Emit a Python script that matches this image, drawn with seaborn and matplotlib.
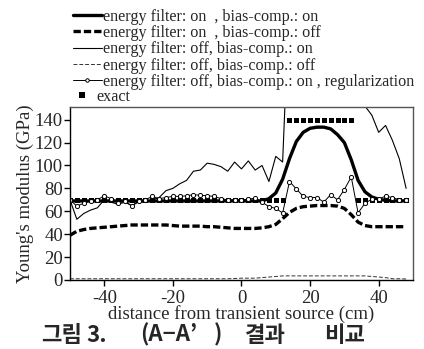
import numpy as np
import pandas as pd
import matplotlib
matplotlib.use("Agg")
import matplotlib.pyplot as plt
import seaborn as sns
from matplotlib.lines import Line2D

# distance from transient source (cm), 2 cm step
dist = list(range(-50, 50, 2))

# energy filter on, bias-comp. on
on_on = [69, 69, 69, 69, 69, 69, 69, 69, 69, 69,
         69, 69, 69, 69, 69, 69, 69, 69, 69, 69,
         69, 69, 69, 69, 69, 69, 69, 69, 69, 71,
         76, 88, 106, 121, 129, 132.5, 133.5, 133.5, 132, 127,
         120, 105, 87, 77, 72.5, 70.5, 69.5, 69, 69, 69]

# energy filter on, bias-comp. off
on_off = [39, 42.5, 44, 45, 45.5, 46, 46.5, 47, 47.5, 48,
          48, 48, 48, 48, 48, 47.5, 47, 47, 47, 47,
          46.5, 46.5, 46, 45.5, 45, 45, 45, 45, 45.5, 46.5,
          48.5, 53.5, 59, 62.5, 64, 64.5, 65, 65, 65, 64.5,
          62.5, 57, 50.5, 47.5, 46.5, 46.5, 46.5, 46.5, 46.5, 46.5]

# energy filter off, bias-comp. on (goes off the top between 14 and 34)
off_on = [70, 53, 58, 61, 63, 70, 68, 66, 68, 65,
          68, 68, 70, 72, 78, 80, 84, 87, 95, 96,
          102, 101, 99, 95, 103, 97, 104, 96, 100, 86,
          108, 103, 250, 250, 250, 250, 250, 250, 250, 250,
          250, 250, 250, 152, 144, 129, 135, 122, 106, 80]

# energy filter off, bias-comp. off
off_off = [1, 1, 1, 1, 1, 1, 1, 1, 1, 1,
           1, 1, 1, 1, 1, 1, 1, 1, 1, 1,
           1, 1, 1, 1, 1.2, 1.5, 1.5, 1.5, 2, 2.5,
           3, 3.5, 3.5, 3.5, 3.5, 3.5, 3.5, 3.5, 3.5, 3.5,
           3.5, 3.5, 3.5, 3.5, 3, 2.5, 2, 1, 1, 0.8]

# energy filter off, bias-comp. on, regularization
reg = [70, 64.5, 67, 69, 70, 73.5, 71, 67.5, 69, 64.5,
       69, 70, 73, 71, 72, 73, 73, 73.5, 74.5, 74,
       73.5, 73, 71, 70, 70, 70, 70.5, 71.5, 68, 64,
       62.5, 58.5, 86, 79.5, 73, 72, 72, 68, 74.5, 70,
       79, 90, 58.5, 67, 70.5, 71, 73, 72, 70, 69.5]

# exact
exact = [70] * 32 + [140] * 10 + [70] * 8

labels = ["energy filter: on  , bias-comp.: on",
          "energy filter: on  , bias-comp.: off",
          "energy filter: off, bias-comp.: on",
          "energy filter: off, bias-comp.: off",
          "energy filter: off, bias-comp.: on , regularization"]

# caption pieces and their centre x (pixels)
caption = [("그림", 62), ("3.", 97), ("(A−A’", 169), (")", 218),
           ("결과", 265), ("비교", 345)]

sns.set_style("ticks")
plt.rcParams['font.family'] = ['Liberation Serif', 'DejaVu Serif']
plt.rcParams['axes.unicode_minus'] = False

fig = plt.figure(figsize=(4.24, 3.49), dpi=100)
ax = fig.add_axes([0.165, 0.198, 0.809, 0.495])

sns.lineplot(x=dist, y=exact, ax=ax, color='black', lw=0, marker='s',
             markersize=3.6, markeredgewidth=0)
sns.lineplot(x=dist, y=on_on, ax=ax, color='black', lw=2.4)
sns.lineplot(x=dist, y=on_off, ax=ax, color='black', lw=2.4,
             linestyle=(0, (2.2, 0.9)))
sns.lineplot(x=dist, y=off_on, ax=ax, color='black', lw=0.8)
sns.lineplot(x=dist, y=off_off, ax=ax, color='#333333', lw=0.7,
             linestyle=(0, (4, 2)))
sns.lineplot(x=dist, y=reg, ax=ax, color='black', lw=0.7, marker='o',
             markersize=3, markerfacecolor='white', markeredgecolor='black',
             markeredgewidth=0.7)

ax.set_xlim(-50, 50)
ax.set_ylim(0, 151)
ax.set_xticks([-40, -20, 0, 20, 40])
ax.set_yticks(range(0, 141, 20))
ax.tick_params(labelsize=13.5, length=4, width=1, color='black')
ax.tick_params(axis='x', pad=3)
ax.tick_params(axis='y', pad=1)
ax.set_xlabel("distance from transient source (cm)", fontsize=13.5, labelpad=-1)
ax.set_ylabel("Young's modulus (GPa)", fontsize=13.5, labelpad=1)
for s in ax.spines.values():
    s.set_linewidth(1)
    s.set_color('black')
ax.spines['top'].set_color('#555555')
ax.spines['right'].set_color('#555555')

handles = [Line2D([], [], color='black', lw=2.4),
           Line2D([], [], color='black', lw=2.4, linestyle=(0, (2.2, 0.9))),
           Line2D([], [], color='black', lw=0.8),
           Line2D([], [], color='#333333', lw=0.7, linestyle=(0, (4, 2))),
           Line2D([], [], color='black', lw=0.7, marker='o', markersize=2.5,
                  markerfacecolor='white', markeredgewidth=0.7)]
fig.legend(handles, labels, loc='upper left', bbox_to_anchor=(0.172, 0.975),
           frameon=False, fontsize=11.6, handlelength=1.8, handletextpad=0.08,
           labelspacing=0.02, borderaxespad=0, borderpad=0)
exact_h = [Line2D([], [], color='black', lw=0, marker='s', markersize=4.5,
                  markeredgewidth=0)]
fig.legend(exact_h, ["exact"], loc='upper left', bbox_to_anchor=(0.175, 0.745),
           frameon=False, fontsize=11.6, handlelength=1.0, handletextpad=0.4,
           borderaxespad=0, borderpad=0)

for txt, xp in caption:
    fig.text(xp / 424, 0.040, txt, ha='center', va='center', fontsize=16,
             fontweight='bold', family=['Noto Sans CJK KR', 'DejaVu Sans'])

fig.savefig("out.png", dpi=100)
